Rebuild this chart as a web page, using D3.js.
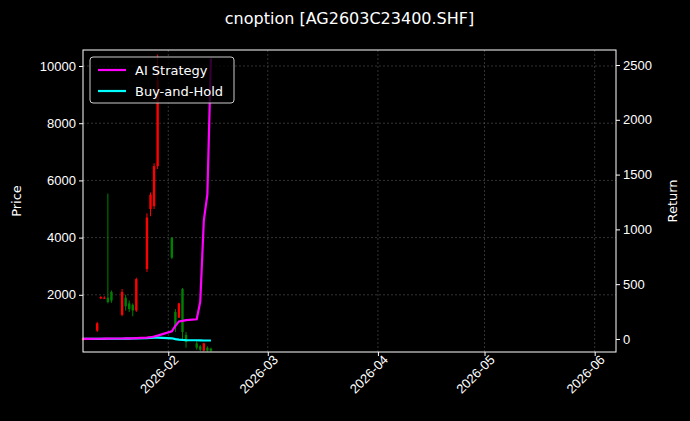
<!DOCTYPE html>
<html><head><meta charset="utf-8">
<script src="https://cdn.jsdelivr.net/npm/d3@7"></script>
<style>body{margin:0;background:#000}svg{font-family:"DejaVu Sans",sans-serif}</style>
</head><body><div id="chart"></div>
<script>
var dates = ["2026-01-08","2026-01-09","2026-01-12","2026-01-13","2026-01-14","2026-01-15","2026-01-16","2026-01-19","2026-01-20","2026-01-21","2026-01-22","2026-01-23","2026-01-26","2026-01-27","2026-01-28","2026-01-29","2026-02-02","2026-02-03","2026-02-04","2026-02-05","2026-02-06","2026-02-09","2026-02-10","2026-02-11","2026-02-12","2026-02-13"];
var opens  = [420,480,750,1880,1880,1900,2100,1300,1900,1700,1650,1450,2900,5000,5100,6500,4000,1400,1200,2200,600,300,200,50,150,120];
var highs  = [500,500,1050,1950,1950,5540,2150,2200,2000,1800,1700,2600,4850,5580,6600,10400,4000,1500,1720,2240,700,400,250,320,200,150];
var lows   = [400,470,700,1850,1850,1700,1720,1250,1450,1400,1250,1400,2800,4750,5000,6400,3250,700,1190,400,150,80,30,20,10,10];
var closes = [480,490,1000,1920,1900,1750,1800,2100,1600,1500,1450,2550,4700,5500,6500,9500,3300,900,1700,700,350,150,80,300,50,40];
var strategy = [0,1,2,2,3,3,4,4,5,5,6,8,12,16,22,30,70,120,160,165,172,180,340,1080,1320,2560];
var buyHold  = [0,0,1,1,1,2,2,2,3,3,4,5,7,9,11,12,6,-2,-6,-9,-11,-12,-13,-14,-14,-14];
var yTicksL = [2000,4000,6000,8000,10000];
var yTicksR = [0,500,1000,1500,2000,2500];

var W = 690, H = 421, m = {top:50, right:74, bottom:69, left:83};
var w = W - m.left - m.right, h = H - m.top - m.bottom;
var parse = d3.timeParse("%Y-%m-%d");
var dd = dates.map(parse);

var svg = d3.select("#chart").append("svg").attr("width", W).attr("height", H).style("background","#000");
var g = svg.append("g").attr("transform", `translate(${m.left},${m.top})`);

var x = d3.scaleTime().domain([parse("2026-01-08"), parse("2026-06-07")]).range([0, w]);
var yL = d3.scaleLinear().domain([0, 10560]).range([h, 0]);
var yR = d3.scaleLinear().domain([-119, 2637]).range([h, 0]);
var xTicks = ["2026-02-01","2026-03-01","2026-04-01","2026-05-01","2026-06-01"].map(parse);

// grid
g.selectAll(".gx").data(xTicks).enter().append("line")
  .attr("x1", d => x(d)).attr("x2", d => x(d)).attr("y1", 0).attr("y2", h)
  .attr("stroke", "#666").attr("stroke-width", 0.5).attr("stroke-dasharray", "2,2");
g.selectAll(".gy").data(yTicksL).enter().append("line")
  .attr("x1", 0).attr("x2", w).attr("y1", d => yL(d)).attr("y2", d => yL(d))
  .attr("stroke", "#666").attr("stroke-width", 0.5).attr("stroke-dasharray", "2,2");

// candles
var plot = g.append("g");
dd.forEach(function(d, i) {
  var col = closes[i] >= opens[i] ? "#ff0000" : "#008000";
  plot.append("line").attr("x1", x(d)).attr("x2", x(d))
    .attr("y1", yL(highs[i])).attr("y2", yL(lows[i])).attr("stroke", col).attr("stroke-width", 1);
  var top = yL(Math.max(opens[i], closes[i])), bot = yL(Math.min(opens[i], closes[i]));
  plot.append("rect").attr("x", x(d) - 1.2).attr("width", 2.4)
    .attr("y", top).attr("height", Math.max(1, bot - top)).attr("fill", col);
});

var line = vals => d3.line().x((d, i) => x(dd[i])).y(d => yR(d))(vals);
g.append("path").attr("d", line(buyHold)).attr("fill", "none").attr("stroke", "#00ffff").attr("stroke-width", 2.2);
g.append("path").attr("d", line(strategy)).attr("fill", "none").attr("stroke", "#ff00ff").attr("stroke-width", 2.2);

// axes
function style(ax) {
  ax.selectAll("text").attr("fill", "#fff").style("font-size", "13px");
  ax.selectAll("line").attr("stroke", "#fff");
  ax.select(".domain").remove();
}
var xa = g.append("g").attr("transform", `translate(0,${h})`)
  .call(d3.axisBottom(x).tickValues(xTicks).tickFormat(d3.timeFormat("%Y-%m")).tickSize(4));
style(xa);
xa.selectAll("text").attr("text-anchor", "end").attr("dx", "0.1em").attr("dy", "0.5em")
  .attr("transform", "rotate(-45)");
var yla = g.append("g").call(d3.axisLeft(yL).tickValues(yTicksL).tickFormat(d3.format("d")).tickSize(4));
style(yla);
var yra = g.append("g").attr("transform", `translate(${w},0)`)
  .call(d3.axisRight(yR).tickValues(yTicksR).tickFormat(d3.format("d")).tickSize(4));
style(yra);
g.append("rect").attr("width", w).attr("height", h).attr("fill", "none").attr("stroke", "#fff").attr("stroke-width", 1);

svg.append("text").attr("x", m.left + w / 2).attr("y", 24).attr("text-anchor", "middle")
  .attr("fill", "#fff").style("font-size", "16px").text("cnoption [AG2603C23400.SHF]");
svg.append("text").attr("transform", `translate(21,${m.top + h / 2}) rotate(-90)`).attr("text-anchor", "middle")
  .attr("fill", "#fff").style("font-size", "13px").text("Price");
svg.append("text").attr("transform", `translate(677,${m.top + h / 2}) rotate(-90)`).attr("text-anchor", "middle")
  .attr("fill", "#fff").style("font-size", "13px").text("Return");

// legend
var lg = g.append("g").attr("transform", "translate(7,7)");
lg.append("rect").attr("width", 144).attr("height", 46).attr("rx", 3)
  .attr("fill", "rgba(0,0,0,0.8)").attr("stroke", "#ccc");
[["AI Strategy", "#ff00ff"], ["Buy-and-Hold", "#00ffff"]].forEach(function(e, i) {
  var yy = 13 + i * 21;
  lg.append("line").attr("x1", 8).attr("x2", 36).attr("y1", yy).attr("y2", yy).attr("stroke", e[1]).attr("stroke-width", 2.2);
  lg.append("text").attr("x", 45).attr("y", yy + 4.5).attr("fill", "#fff").style("font-size", "13px").text(e[0]);
});
</script></body></html>
